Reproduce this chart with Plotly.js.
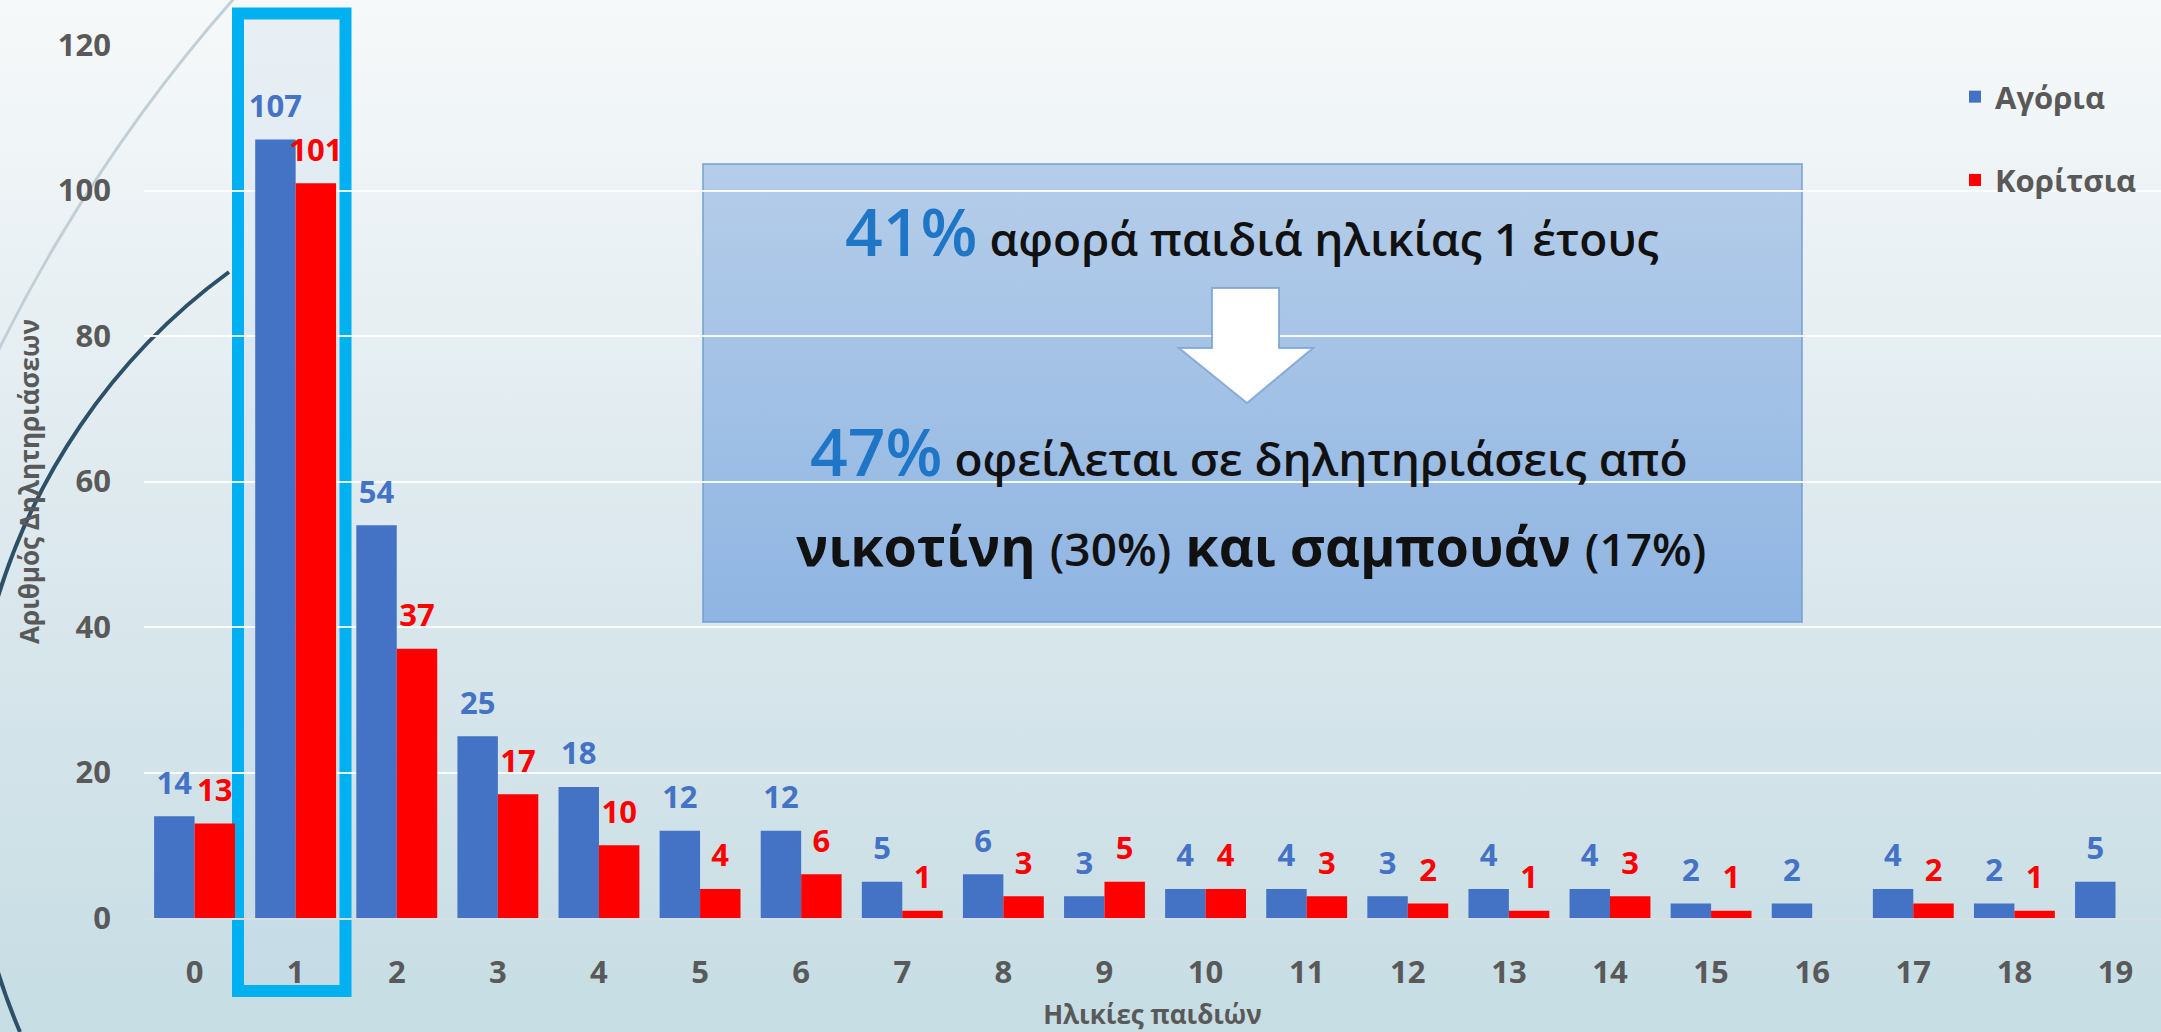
<!DOCTYPE html>
<html>
<head>
<meta charset="utf-8">
<script src="https://cdn.plot.ly/plotly-3.0.1.min.js"></script>
<style>
  html, body { margin: 0; padding: 0; }
  #wrap {
    width: 2161px; height: 1032px; position: relative; overflow: hidden;
    background: linear-gradient(to bottom, #f6f9fa 0%, #eaf1f4 25%, #dbe8ed 55%, #c6dde4 100%);
  }
  #chart { width: 2161px; height: 1032px; }
</style>
</head>
<body>
<div id="wrap"><div id="chart"></div></div>
<script>
// ---- data ----
const ages = ['0','1','2','3','4','5','6','7','8','9','10','11','12','13','14','15','16','17','18','19'];
const boys = [14,107,54,25,18,12,12,5,6,3,4,4,3,4,4,2,2,4,2,5];
const girls = [13,101,37,17,10,4,6,1,3,5,4,3,2,1,3,1,null,2,1,null];
const seriesNames = ['Αγόρια', 'Κορίτσια'];
const yTicks = [0, 20, 40, 60, 80, 100, 120];
const xTitle = 'Ηλικίες παιδιών';
const yTitle = 'Αριθμός Δηλητηριάσεων';
const boxLine1 = ['41%', 'αφορά παιδιά ηλικίας 1 έτους'];
const boxLine2 = ['47%', 'οφείλεται σε δηλητηριάσεις από'];
const boxLine3 = ['νικοτίνη', '(30%)', 'και σαμπουάν', '(17%)'];

// ---- layout geometry ----
const W = 2161, H = 1032;
const M = { l: 144, r: 0, t: 45, b: 114 };
const PW = W - M.l - M.r, PH = H - M.t - M.b;
const px = x => (x - M.l) / PW;
const py = y => (H - M.b - y) / PH;

const blue = '#4472c4', red = '#ff0000', gray = '#595959';
const FONT = '"Open Sans", "Noto Sans", sans-serif';

// value label: big number, plus a tiny blank line that lifts it a little above the bar
const label = v => v == null ? '' : '<span style="font-size:31px">' + v + '</span><br>\u00a0';

const traces = [
  {
    type: 'bar', name: seriesNames[0], x: ages, y: boys, legendgroup: 'a',
    marker: { color: blue },
    text: boys.map(label), textposition: 'outside',
    textfont: { family: FONT, size: 12, color: blue, weight: 700 },
    constraintext: 'none', cliponaxis: false, hoverinfo: 'x+y+name'
  },
  {
    type: 'bar', name: seriesNames[1], x: ages, y: girls, legendgroup: 'b',
    marker: { color: red },
    text: girls.map(label), textposition: 'outside',
    textfont: { family: FONT, size: 12, color: red, weight: 700 },
    constraintext: 'none', cliponaxis: false, hoverinfo: 'x+y+name'
  }
];

function arrowPath() {
  const pts = [[1212,288],[1279,288],[1279,348],[1313,348],[1247,403],[1179,348],[1212,348]];
  return 'M' + pts.map(p => px(p[0]).toFixed(5) + ',' + py(p[1]).toFixed(5)).join(' L') + ' Z';
}
function curve(p0, c1, c2, p3) {
  const f = p => px(p[0]).toFixed(5) + ',' + py(p[1]).toFixed(5);
  return 'M' + f(p0) + ' C' + f(c1) + ' ' + f(c2) + ' ' + f(p3);
}

const gradSvg = '<svg xmlns="http://www.w3.org/2000/svg" width="100" height="100" preserveAspectRatio="none">' +
  '<defs><linearGradient id="g" x1="0" y1="0" x2="0" y2="1">' +
  '<stop offset="0" stop-color="#b5cde9"/><stop offset="1" stop-color="#8fb5e2"/></linearGradient></defs>' +
  '<rect width="100" height="100" fill="url(#g)"/></svg>';

const pctStyle = 'color:#1f76c6;font-size:66px;font-weight:600';

const layout = {
  width: W, height: H,
  margin: M,
  paper_bgcolor: 'rgba(0,0,0,0)',
  plot_bgcolor: 'rgba(0,0,0,0)',
  font: { family: FONT, color: gray },
  barmode: 'group', bargap: 0.2, bargroupgap: 0,
  showlegend: true,
  legend: {
    x: px(1955), y: py(70), xanchor: 'left', yanchor: 'top',
    font: { family: FONT, size: 31, color: gray, weight: 700 },
    bgcolor: 'rgba(0,0,0,0)', traceorder: 'grouped', tracegroupgap: 40
  },
  xaxis: {
    type: 'category', range: [-0.5, 19.45], showgrid: false,
    showline: true, linecolor: '#d6dfe3', linewidth: 2, ticks: '',
    tickfont: { family: FONT, size: 31, color: gray, weight: 700 },
    ticklabelstandoff: 26,
    title: { text: xTitle, font: { family: FONT, size: 26, color: gray, weight: 700 }, standoff: 24 },
    automargin: false
  },
  yaxis: {
    range: [0, 120], tickvals: yTicks, ticktext: yTicks.map(String),
    showgrid: true, gridcolor: 'rgba(255,255,255,0.9)', gridwidth: 1.5,
    zeroline: false, showline: false, ticks: '',
    tickfont: { family: FONT, size: 31, color: gray, weight: 700 },
    ticklabelstandoff: 32,
    title: { text: yTitle, font: { family: FONT, size: 26, color: gray, weight: 700 }, standoff: 10 },
    automargin: false
  },
  images: [{
    source: 'data:image/svg+xml;charset=utf-8,' + encodeURIComponent(gradSvg),
    xref: 'paper', yref: 'paper', x: px(703), y: py(164),
    sizex: px(1802) - px(703), sizey: py(164) - py(622),
    sizing: 'stretch', xanchor: 'left', yanchor: 'top', layer: 'below'
  }],
  shapes: [
    { type: 'path', xref: 'paper', yref: 'paper', layer: 'below',
      path: curve([246,-15],[107,139],[-1,320],[-72,515]),
      line: { color: '#c3cfd6', width: 3 } },
    { type: 'path', xref: 'paper', yref: 'paper', layer: 'below',
      path: curve([229,272],[-8,445],[-95,762],[20,1032]),
      line: { color: '#2b5068', width: 4 } },
    { type: 'rect', xref: 'paper', yref: 'paper', layer: 'below',
      x0: px(238), x1: px(345.5), y0: py(991), y1: py(13.5),
      fillcolor: 'rgba(185,210,232,0.22)', line: { color: '#00b0f0', width: 12 } },
    { type: 'rect', xref: 'paper', yref: 'paper', layer: 'below',
      x0: px(703), x1: px(1802), y0: py(622), y1: py(164),
      fillcolor: 'rgba(0,0,0,0)', line: { color: 'rgba(110,155,210,0.7)', width: 2 } },
    { type: 'path', xref: 'paper', yref: 'paper', layer: 'above',
      path: arrowPath(), fillcolor: '#ffffff', line: { color: 'rgba(120,160,210,0.8)', width: 2 } }
  ],
  annotations: [
    { xref: 'paper', yref: 'paper', x: px(1252), y: py(230), xanchor: 'center', yanchor: 'middle', showarrow: false,
      text: '<span style="' + pctStyle + '">' + boxLine1[0] + '</span> ' + boxLine1[1],
      font: { family: FONT, size: 46, color: '#111111', weight: 600 } },
    { xref: 'paper', yref: 'paper', x: px(1249), y: py(450), xanchor: 'center', yanchor: 'middle', showarrow: false,
      text: '<span style="' + pctStyle + '">' + boxLine2[0] + '</span> ' + boxLine2[1],
      font: { family: FONT, size: 46, color: '#111111', weight: 600 } },
    { xref: 'paper', yref: 'paper', x: px(1251), y: py(545), xanchor: 'center', yanchor: 'middle', showarrow: false,
      text: '<b>' + boxLine3[0] + '</b> <span style="font-size:46px;font-weight:600">' + boxLine3[1] + '</span> <b>' + boxLine3[2] + '</b> <span style="font-size:46px;font-weight:600">' + boxLine3[3] + '</span>',
      font: { family: FONT, size: 54, color: '#111111' } }
  ]
};

Plotly.newPlot('chart', traces, layout, { displayModeBar: false, responsive: false });
</script>
</body>
</html>
